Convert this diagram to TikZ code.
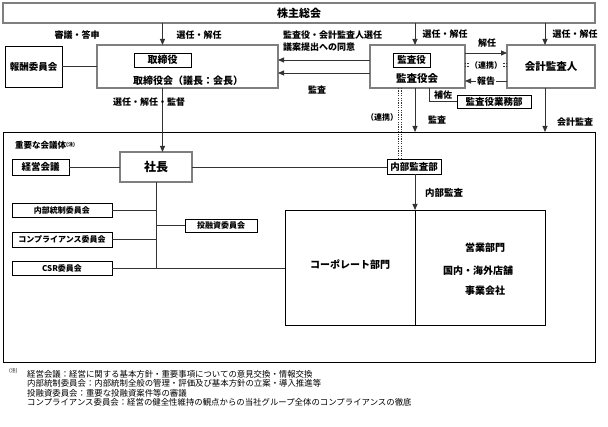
\documentclass[tikz,border=0pt]{standalone}
\usepackage{fontspec}
\setmainfont{Noto Sans CJK JP}
\usetikzlibrary{arrows.meta,calc}
\definecolor{boxgray}{HTML}{7F7F7F}
\definecolor{linec}{HTML}{333333}
\begin{document}
\begin{tikzpicture}[x=1pt,y=-1pt,
  mainbox/.style={draw=boxgray,line width=1.8pt,inner sep=0pt,outer sep=0pt,align=center,font=\bfseries\fontsize{10.5}{12}\selectfont},
  thinbox/.style={draw=black,line width=0.8pt,inner sep=0pt,outer sep=0pt,fill=white,align=center,font=\bfseries\fontsize{9.5}{11}\selectfont},
  combox/.style={thinbox,font=\bfseries\fontsize{8}{9}\selectfont},
  plainbox/.style={draw=black,line width=0.8pt,inner sep=0pt,outer sep=0pt},
  conn/.style={draw=linec,line width=0.9pt},
  arr/.style={conn,-{Triangle[length=6pt,width=5pt]}},
  lbl/.style={inner sep=0pt,font=\bfseries\fontsize{9}{10}\selectfont},
  btxt/.style={inner sep=0pt,font=\bfseries\fontsize{10}{12}\selectfont},
  note/.style={inner sep=0pt,anchor=west,font=\fontsize{8.4}{9}\selectfont},
  dots/.style={draw=linec,line width=0.8pt,dash pattern=on 1.2pt off 1.2pt}]
\useasboundingbox (0,0) rectangle (608,427);

% top
\node[mainbox,minimum width=592pt,minimum height=20pt,font=\bfseries\fontsize{11}{12}\selectfont] (kabu) at (299,13) {株主総会};

% board
\node[mainbox,minimum width=181pt,minimum height=43pt] (tori) at (187.5,66.5) {};
\node[thinbox,minimum width=57pt,minimum height=14pt,font=\bfseries\fontsize{10}{11}\selectfont] (toriyaku) at (162.5,60) {取締役};
\node[btxt] (toritxt) at (188,81) {取締役会（議長：会長）};
\node[thinbox,minimum width=57pt,minimum height=41pt] (hoshu) at (33.5,66.5) {報酬委員会};
\draw[conn] (hoshu.east) -- (tori.west);
\draw[arr] (kabu.south -| toriyaku) -- (tori.north -| toriyaku);
\node[lbl] at (77,35) {審議・答申};
\node[lbl] at (199,35) {選任・解任};

% auditors
\node[mainbox,minimum width=95pt,minimum height=43pt] (kansa) at (417.5,66.5) {};
\node[thinbox,minimum width=37pt,minimum height=14pt] (kansayaku) at (411.5,60) {監査役};
\node[btxt,font=\bfseries\fontsize{10.5}{12}\selectfont] (kansatxt) at (417,79) {監査役会};
\node[mainbox,minimum width=88pt,minimum height=43pt] (kaikei) at (551,66.5) {会計監査人};

\coordinate (xk) at (415,0);
\coordinate (xa) at (545,0);
\coordinate (xh) at (429,0);
\coordinate (xd1) at (398.5,0);
\coordinate (xd2) at (401.5,0);
\coordinate (y1) at (0,60);
\coordinate (y2) at (0,73);
\coordinate (ya) at (0,53);
\coordinate (yr1) at (0,63.5);
\coordinate (yr2) at (0,66.5);
\coordinate (yh) at (0,81);

\draw[arr] (kabu.south -| xk) -- (kansa.north -| xk);
\draw[arr] (kabu.south -| xa) -- (kaikei.north -| xa);
\node[lbl] at (445,34) {選任・解任};
\node[lbl] at (575,34) {選任・解任};
\node[lbl,anchor=west] at (283,35) {監査役・会計監査人選任};
\node[lbl,anchor=west] at (283,47) {議案提出への同意};
\draw[arr] (kansa.west |- y1) -- (tori.east |- y1);
\draw[arr] (kansa.west |- y2) -- (tori.east |- y2);
\node[lbl] at (317,90) {監査};

\draw[arr] (kansa.east |- ya) -- (kaikei.west |- ya);
\node[lbl] at (487,43) {解任};
\draw[dots] (kansa.east |- yr1) -- (kaikei.west |- yr1);
\draw[dots] (kansa.east |- yr2) -- (kaikei.west |- yr2);
\node[lbl,fill=white,inner sep=0.5pt,font=\bfseries\fontsize{8}{9}\selectfont] at (486,65) {（連携）};
\draw[arr] (kaikei.west |- yh) -- (kansa.east |- yh) node[midway,fill=white,lbl,inner sep=1pt] {報告};

\node[thinbox,minimum width=74pt,minimum height=13pt] (gyomu) at (494,101.5) {監査役業務部};
\draw[conn] (kansa.south -| xh) |- (gyomu.west);
\node[lbl] at (443,95) {補佐};

% big box
\node[plainbox,minimum width=592pt,minimum height=230pt] (big) at (299,247) {};
\node[lbl,anchor=west,font=\bfseries\fontsize{8.5}{10}\selectfont] at (15,145) {重要な会議体\raisebox{2pt}{\fontsize{5}{5}\selectfont (注)}};

\draw[arr] (kansa.south -| xk) -- (big.north -| xk);
\node[lbl] at (437,120) {監査};
\draw[arr] (kaikei.south -| xa) -- (big.north -| xa);
\node[lbl] at (575,122) {会計監査};

% president
\node[mainbox,minimum width=72pt,minimum height=30pt,font=\bfseries\fontsize{12}{14}\selectfont] (shacho) at (156,167) {社長};
\draw[arr] (tori.south -| toriyaku) -- (shacho.north -| toriyaku);
\node[lbl] at (149,102) {選任・解任・監督};

\node[thinbox,minimum width=57pt,minimum height=16pt] (keiei) at (40.5,167) {経営会議};
\draw[conn] (keiei.east) -- (shacho.west);

\node[thinbox,minimum width=54pt,minimum height=15pt] (naibu) at (414,167) {内部監査部};
\draw[conn] (shacho.east) -- (naibu.west);
\draw[dots] (kansa.south -| xd1) -- (naibu.north -| xd1);
\draw[dots] (kansa.south -| xd2) -- (naibu.north -| xd2);
\node[lbl,font=\bfseries\fontsize{8}{9}\selectfont] at (382,117) {（連携）};

% departments
\node[plainbox,minimum width=260pt,minimum height=115pt] (inner) at (415,267.5) {};
\draw[arr] (naibu.south -| xk) -- (inner.north -| xk);
\draw[plainbox] (inner.north -| xk) -- (inner.south -| xk);
\node[lbl,font=\bfseries\fontsize{9.5}{10}\selectfont] at (444,193) {内部監査};
\node[btxt] at (350,265) {コーポレート部門};
\node[btxt] at (485,248) {営業部門};
\node[btxt] at (478,271) {国内・海外店舗};
\node[btxt] at (485,291) {事業会社};

% committees
\node[combox,minimum width=100pt,minimum height=14pt] (ic) at (62,210) {内部統制委員会};
\node[combox,minimum width=100pt,minimum height=15pt] (cc) at (62,239.5) {コンプライアンス委員会};
\node[combox,minimum width=100pt,minimum height=14pt] (csr) at (62,268) {CSR委員会};
\node[combox,minimum width=72pt,minimum height=13pt] (ty) at (221,225.5) {投融資委員会};
\draw[conn] (shacho.south) -- (shacho.south |- csr.east);
\draw[conn] (ic.east) -- (ic.east -| shacho.south);
\draw[conn] (cc.east) -- (cc.east -| shacho.south);
\draw[conn] (ty.west) -- (ty.west -| shacho.south);
\draw[conn] (csr.east) -- (csr.east -| inner.west);

% footnotes
\node[inner sep=0pt,anchor=west,font=\fontsize{5}{5}\selectfont] at (9,371) {(注)};
\node[note] at (27,374) {経営会議：経営に関する基本方針・重要事項についての意見交換・情報交換};
\node[note] at (27,383.5) {内部統制委員会：内部統制全般の管理・評価及び基本方針の立案・導入推進等};
\node[note] at (27,393) {投融資委員会：重要な投融資案件等の審議};
\node[note] at (27,402.5) {コンプライアンス委員会：経営の健全性維持の観点からの当社グループ全体のコンプライアンスの徹底};
\end{tikzpicture}
\end{document}
